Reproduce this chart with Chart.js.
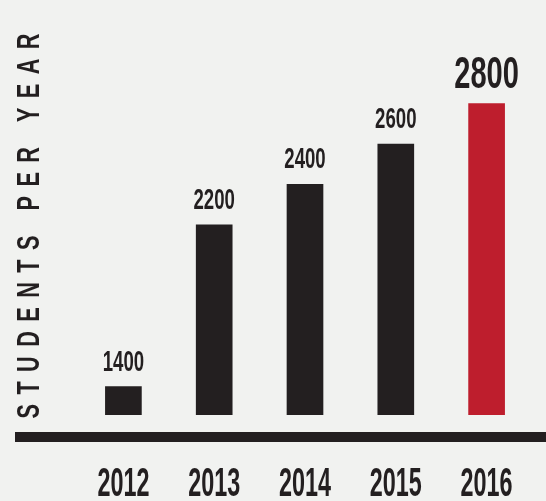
<!DOCTYPE html>
<html>
<head>
<meta charset="utf-8">
<script src="https://cdn.jsdelivr.net/npm/chart.js@4"></script>
<style>
  html, body { margin: 0; padding: 0; background: #f1f2f0; }
  canvas { display: block; }
</style>
</head>
<body>
<canvas id="studentsChart" width="546" height="501"></canvas>
<script>
// data
const years = ['2012', '2013', '2014', '2015', '2016'];
const students = [1400, 2200, 2400, 2600, 2800];
const axisTitle = 'STUDENTS PER YEAR';

const INK = '#231f20';
const RED = '#be1e2d';
const FACE = "'Liberation Sans', Arial, sans-serif";

// no condensed face installed, so text is squeezed horizontally
function squeezed(c, text, x, y, size, sx) {
  c.save();
  c.font = 'bold ' + size + 'px ' + FACE;
  c.fillStyle = INK;
  c.textAlign = 'center';
  c.textBaseline = 'alphabetic';
  c.translate(x, y);
  c.scale(sx, 1);
  c.fillText(text, 0, 0);
  c.restore();
}

// thick base line under the bars
const baseLine = {
  id: 'baseLine',
  beforeDatasetsDraw(chart) {
    const c = chart.ctx;
    const y = chart.chartArea.bottom + 17;
    c.save();
    c.fillStyle = INK;
    c.fillRect(15, y, chart.width - 15, 10);
    c.restore();
  }
};

// category labels, placed at the x scale's tick positions
const yearLabels = {
  id: 'yearLabels',
  afterDraw(chart) {
    const xs = chart.scales.x;
    xs.getLabels().forEach((lab, i) => {
      squeezed(chart.ctx, lab, xs.getPixelForTick(i), chart.chartArea.bottom + 81, 41, 0.57);
    });
  }
};

// numbers above the bars
const valueLabels = {
  id: 'valueLabels',
  afterDatasetsDraw(chart) {
    const meta = chart.getDatasetMeta(0);
    meta.data.forEach((bar, i) => {
      const last = i === students.length - 1;
      squeezed(chart.ctx, String(students[i]), bar.x, bar.y - 16,
        last ? 44 : 30, last ? 0.66 : 0.62);
    });
  }
};

// spaced-out vertical title on the left
const sideTitle = {
  id: 'sideTitle',
  afterDraw(chart) {
    const c = chart.ctx;
    const span = 385, sx = 0.7;
    c.save();
    c.font = 'bold 31px ' + FACE;
    c.fillStyle = INK;
    c.textBaseline = 'middle';
    c.textAlign = 'left';
    const w = c.measureText(axisTitle).width;
    const ls = (span / sx - w) / (axisTitle.length - 1);
    c.letterSpacing = ls + 'px';
    c.translate(30, 226);
    c.rotate(-Math.PI / 2);
    c.scale(sx, 1);
    c.fillText(axisTitle, -span / sx / 2, 0);
    c.restore();
  }
};

new Chart(document.getElementById('studentsChart'), {
  type: 'bar',
  data: {
    labels: years,
    datasets: [{
      data: students,
      backgroundColor: (ctx) => ctx.dataIndex === students.length - 1 ? RED : INK,
      barThickness: 36,
      borderWidth: 0
    }]
  },
  options: {
    responsive: false,
    animation: false,
    devicePixelRatio: 1,
    layout: { padding: { left: 78, right: 14, top: 0, bottom: 86 } },
    plugins: {
      legend: { display: false },
      tooltip: { enabled: false }
    },
    scales: {
      x: {
        grid: { display: false, drawTicks: false },
        border: { display: false },
        ticks: { display: false }
      },
      y: {
        display: false,
        min: 1260,
        max: 3312
      }
    }
  },
  plugins: [baseLine, valueLabels, yearLabels, sideTitle]
});
</script>
</body>
</html>
